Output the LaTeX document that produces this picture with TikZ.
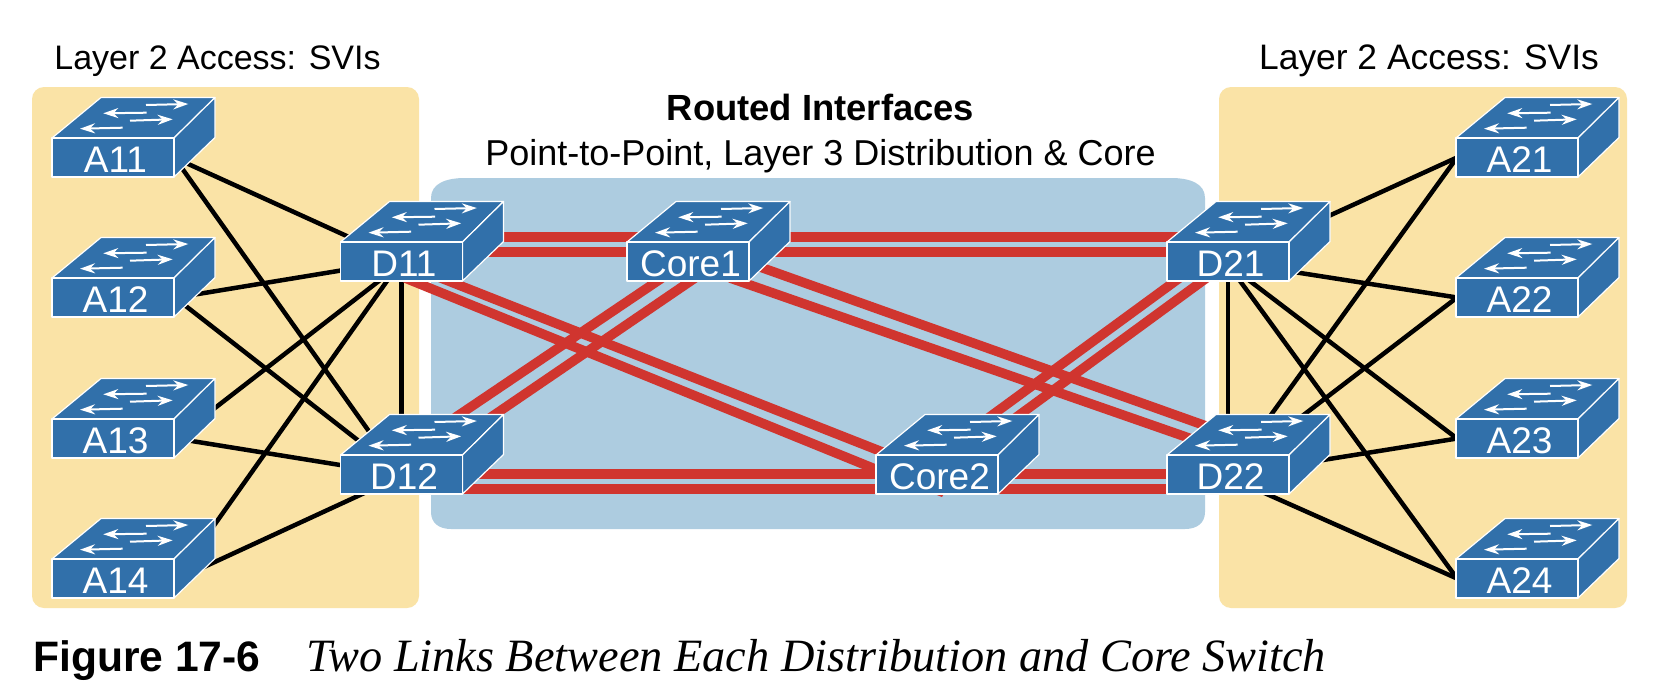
\documentclass[tikz,border=0pt]{standalone}
\usepackage{fontspec}
\setmainfont{Liberation Sans}
\newfontfamily\capserif{Liberation Serif}
\usetikzlibrary{arrows.meta}
\pgfdeclarelayer{panels}
\pgfdeclarelayer{links}
\pgfsetlayers{panels,links,main}
\definecolor{panelyellow}{HTML}{FAE3A6}
\definecolor{panelblue}{HTML}{ADCCE0}
\definecolor{switchblue}{HTML}{3170AA}
\definecolor{linkred}{HTML}{D0352F}
\tikzset{
  face/.style={fill=switchblue,draw=white,line width=1.2pt,line join=round},
  frontface/.style={face,rectangle,minimum width=122pt,minimum height=39pt,inner sep=0pt,
    text=white,font=\fontsize{37}{37}\selectfont,text height=29pt,text depth=0pt},
  flow/.style={white,line width=2pt,-{Stealth[length=15pt,width=10pt]}},
  uplink/.style={black,line width=4.5pt},
  routed/.style={linkred,line width=9.5pt},
  head/.style={black,anchor=base,inner sep=0pt,font=\fontsize{34}{34}\selectfont},
}
% name, centre x, centre y, label
\newcommand{\netswitch}[4]{%
  \begin{scope}[shift={(#2,#3)}]
    \draw[face] (-61,-19.5) -- (-12,-60) -- (102,-60) -- (61,-19.5) -- cycle;
    \draw[face] (61,-19.5) -- (102,-60) -- (102,-20) -- (61,19.5) -- cycle;
    \draw[flow] (33,-52.5) -- (75.3,-53.5);
    \draw[flow] (33.7,-44.8) -- (-9.7,-44.2);
    \draw[flow] (17,-36.8) -- (59.7,-38.2);
    \draw[flow] (9.7,-29.8) -- (-33,-28.8);
  \end{scope}
  \node[frontface] (#1) at (#2,#3) {\hspace*{5pt}#4};
}
% style, node a, dx, dy, node b, dx, dy
\newcommand{\lnk}[7]{\draw[#1] ([shift={(#3,#4)}]#2.center) -- ([shift={(#6,#7)}]#5.center);}
\begin{document}
\begin{tikzpicture}[x=1pt,y=-1pt]
\useasboundingbox (0,0) rectangle (1666,696);
\begin{pgfonlayer}{panels}
  \fill[white] (0,0) rectangle (1666,696);
  \fill[panelyellow,rounded corners=12pt] (32,87) rectangle (419,608);
  \fill[panelyellow,rounded corners=12pt] (1219,87) rectangle (1627,608);
  \fill[panelblue] (431,198)
    .. controls (431,184) and (445,178) .. (465,178) -- (1171,178)
    .. controls (1191,178) and (1205,184) .. (1205,198) -- (1205,512)
    .. controls (1205,523) and (1197,529) .. (1185,529) -- (451,529)
    .. controls (439,529) and (431,523) .. (431,512) -- cycle;
\end{pgfonlayer}

\netswitch{A11}{113}{157.5}{A11}
\netswitch{A12}{113}{297.5}{A12}
\netswitch{A13}{113}{438.5}{A13}
\netswitch{A14}{113}{578.5}{A14}
\netswitch{D11}{401.5}{261.5}{D11}
\netswitch{D12}{401.5}{474.5}{D12}
\netswitch{Core1}{688}{261.5}{Core1}
\netswitch{Core2}{937}{474.5}{Core2}
\netswitch{D21}{1228}{261.5}{D21}
\netswitch{D22}{1228}{474.5}{D22}
\netswitch{A21}{1517}{157.5}{A21}
\netswitch{A22}{1517}{297.5}{A22}
\netswitch{A23}{1517}{438.5}{A23}
\netswitch{A24}{1517}{578.5}{A24}

\begin{pgfonlayer}{links}
  % left access links
  \lnk{uplink}{A11}{57}{-1.8}{D11}{-31.5}{-14.9}
  \lnk{uplink}{A11}{62}{0.9}{D12}{-16.5}{-20.6}
  \lnk{uplink}{A12}{67}{-0.5}{D11}{-51.5}{7.5}
  \lnk{uplink}{A12}{67}{4}{D12}{-26.5}{-20.9}
  \lnk{uplink}{A13}{87}{-18.9}{D11}{-11.5}{10.9}
  \lnk{uplink}{A13}{67}{0.6}{D12}{-51.5}{-7.9}
  \lnk{uplink}{A14}{92}{-40.3}{D11}{-6.5}{8.2}
  \lnk{uplink}{A14}{82}{-7.4}{D12}{-21.5}{11.3}
  \lnk{uplink}{D11}{0}{0}{D12}{0}{0}
  % right access links
  \lnk{uplink}{D21}{0}{0}{D22}{0}{0}
  \lnk{uplink}{D21}{82}{-37}{A21}{-60}{0}
  \lnk{uplink}{D22}{27}{-37.5}{A21}{-60}{0}
  \lnk{uplink}{D21}{62}{9.9}{A22}{-60}{0}
  \lnk{uplink}{D22}{57}{-45.3}{A22}{-60}{0}
  \lnk{uplink}{D21}{17}{15.8}{A23}{-60}{0}
  \lnk{uplink}{D22}{72}{-10.8}{A23}{-60}{0}
  \lnk{uplink}{D21}{7}{12.6}{A24}{-60}{0}
  \lnk{uplink}{D22}{27}{14.3}{A24}{-60}{0}
  % routed links
  \lnk{routed}{D11}{0}{-24.5}{Core1}{0}{-24.5}
  \lnk{routed}{D11}{0}{-9.5}{Core1}{0}{-9.5}
  \lnk{routed}{Core1}{0}{-24.5}{D21}{0}{-24.5}
  \lnk{routed}{Core1}{0}{-9.5}{D21}{0}{-9.5}
  \lnk{routed}{D12}{0}{-0.5}{Core2}{0}{-0.5}
  \lnk{routed}{D12}{0}{14.5}{Core2}{0}{14.5}
  \lnk{routed}{Core2}{0}{-0.5}{D22}{0}{-0.5}
  \lnk{routed}{Core2}{0}{14.5}{D22}{0}{14.5}
  \lnk{routed}{D11}{33.5}{14.2}{Core2}{-37}{-15.6}
  \lnk{routed}{D11}{3.5}{16.5}{Core2}{-52}{-1.5}
  \lnk{routed}{Core1}{-23}{14.5}{D12}{48.5}{-53.5}
  \lnk{routed}{Core1}{10}{14.5}{D12}{83.5}{-53.3}
  \lnk{routed}{Core1}{72}{5.5}{D22}{-3}{-41.8}
  \lnk{routed}{Core1}{42}{16.5}{D22}{-18}{-29.2}
  \lnk{routed}{D21}{-43}{12.5}{Core2}{48}{-54.2}
  \lnk{routed}{D21}{-16}{12.5}{Core2}{75}{-54.2}
  \fill[linkred] ([shift={(-4,19)}]Core2.center) -- ([shift={(7,19)}]Core2.center) -- ([shift={(5,22.5)}]Core2.center) -- cycle;
\end{pgfonlayer}

\node[head] (leftTitle) at (217.5,69) {Layer 2 Access: SVIs};
\node[head,font=\fontsize{35.4}{35.4}\selectfont] (rightTitle) at (1429,69) {Layer 2 Access: SVIs};
\node[head,font=\fontsize{36.4}{36.4}\selectfont\bfseries] (routedTitle) at (820.5,120.7) {Routed Interfaces};
\node[head,font=\fontsize{36}{36}\selectfont] (routedSub) at (820.5,165) {Point-to-Point, Layer 3 Distribution \& Core};
\node[head,anchor=base west,font=\fontsize{42.6}{42.6}\selectfont\bfseries] (figLabel) at (33,671.7) {Figure 17-6};
\node[head,anchor=base west,font=\capserif\fontsize{46.3}{46.3}\selectfont\itshape] (figTitle) at (306,671.7) {Two Links Between Each Distribution and Core Switch};
\end{tikzpicture}
\end{document}
